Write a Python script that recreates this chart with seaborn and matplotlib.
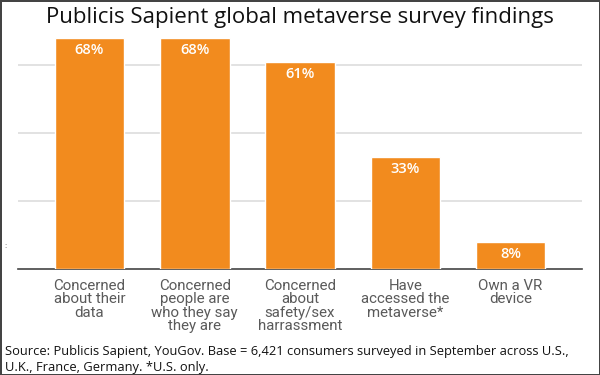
import pandas as pd
import seaborn as sns
import matplotlib.pyplot as plt

categories = ['Concerned\nabout their\ndata',
              'Concerned\npeople are\nwho they say\nthey are',
              'Concerned\nabout\nsafety/sex\nharrassment',
              'Have\naccessed the\nmetaverse*',
              'Own a VR\ndevice']
values = [68, 68, 61, 33, 8]

title = 'Publicis Sapient global metaverse survey findings'
source = ('Source: Publicis Sapient, YouGov. Base = 6,421 consumers surveyed in September across U.S.,\n'
          'U.K., France, Germany. *U.S. only.')

orange = '#F28B1E'

sns.set_theme(style='white')
plt.rcParams['font.family'] = ['Open Sans', 'DejaVu Sans']

df = pd.DataFrame({'label': categories, 'value': values})

fig = plt.figure(figsize=(6, 3.75), dpi=100)
fig.patch.set_edgecolor('#444444')
fig.patch.set_linewidth(2)
ax = fig.add_axes([0.03, 0.2827, 0.94, 0.634])

sns.barplot(data=df, x='label', y='value', color=orange, saturation=1,
            width=0.66, ax=ax, zorder=3)

ax.set_ylim(0, 70)
ax.set_xlim(-0.68, 4.68)
ax.set_yticks([20, 40, 60])
ax.yaxis.grid(True, color='#dddddd', linewidth=1.2, zorder=0)
ax.tick_params(axis='y', left=False, labelleft=False)
ax.tick_params(axis='x', bottom=False, pad=1)
for s in ['top', 'right', 'left']:
    ax.spines[s].set_visible(False)
ax.spines['bottom'].set_color('#444444')
ax.spines['bottom'].set_linewidth(1.2)
ax.set_xlabel('')
ax.set_ylabel('')
ax.set_xticks(range(len(categories)))
ax.set_xticklabels(categories, fontsize=10.8, color='#5a5a5a',
                   family=['Roboto', 'DejaVu Sans'], linespacing=0.96, va='top')

for i, v in enumerate(values):
    ax.text(i, v - 1.5, f'{v}%', ha='center', va='top', color='white',
            fontsize=10.5, fontweight='semibold', zorder=4)

fig.text(0.5, 0.952, title, ha='center', va='center', fontsize=16, color='#111111')
fig.text(0.008, 0.004, source, ha='left', va='bottom', fontsize=9.3, color='#111111',
         linespacing=1.3)
fig.text(0.008, 0.338, ':', fontsize=6, color='#666666')

fig.savefig('out.png', dpi=100)
